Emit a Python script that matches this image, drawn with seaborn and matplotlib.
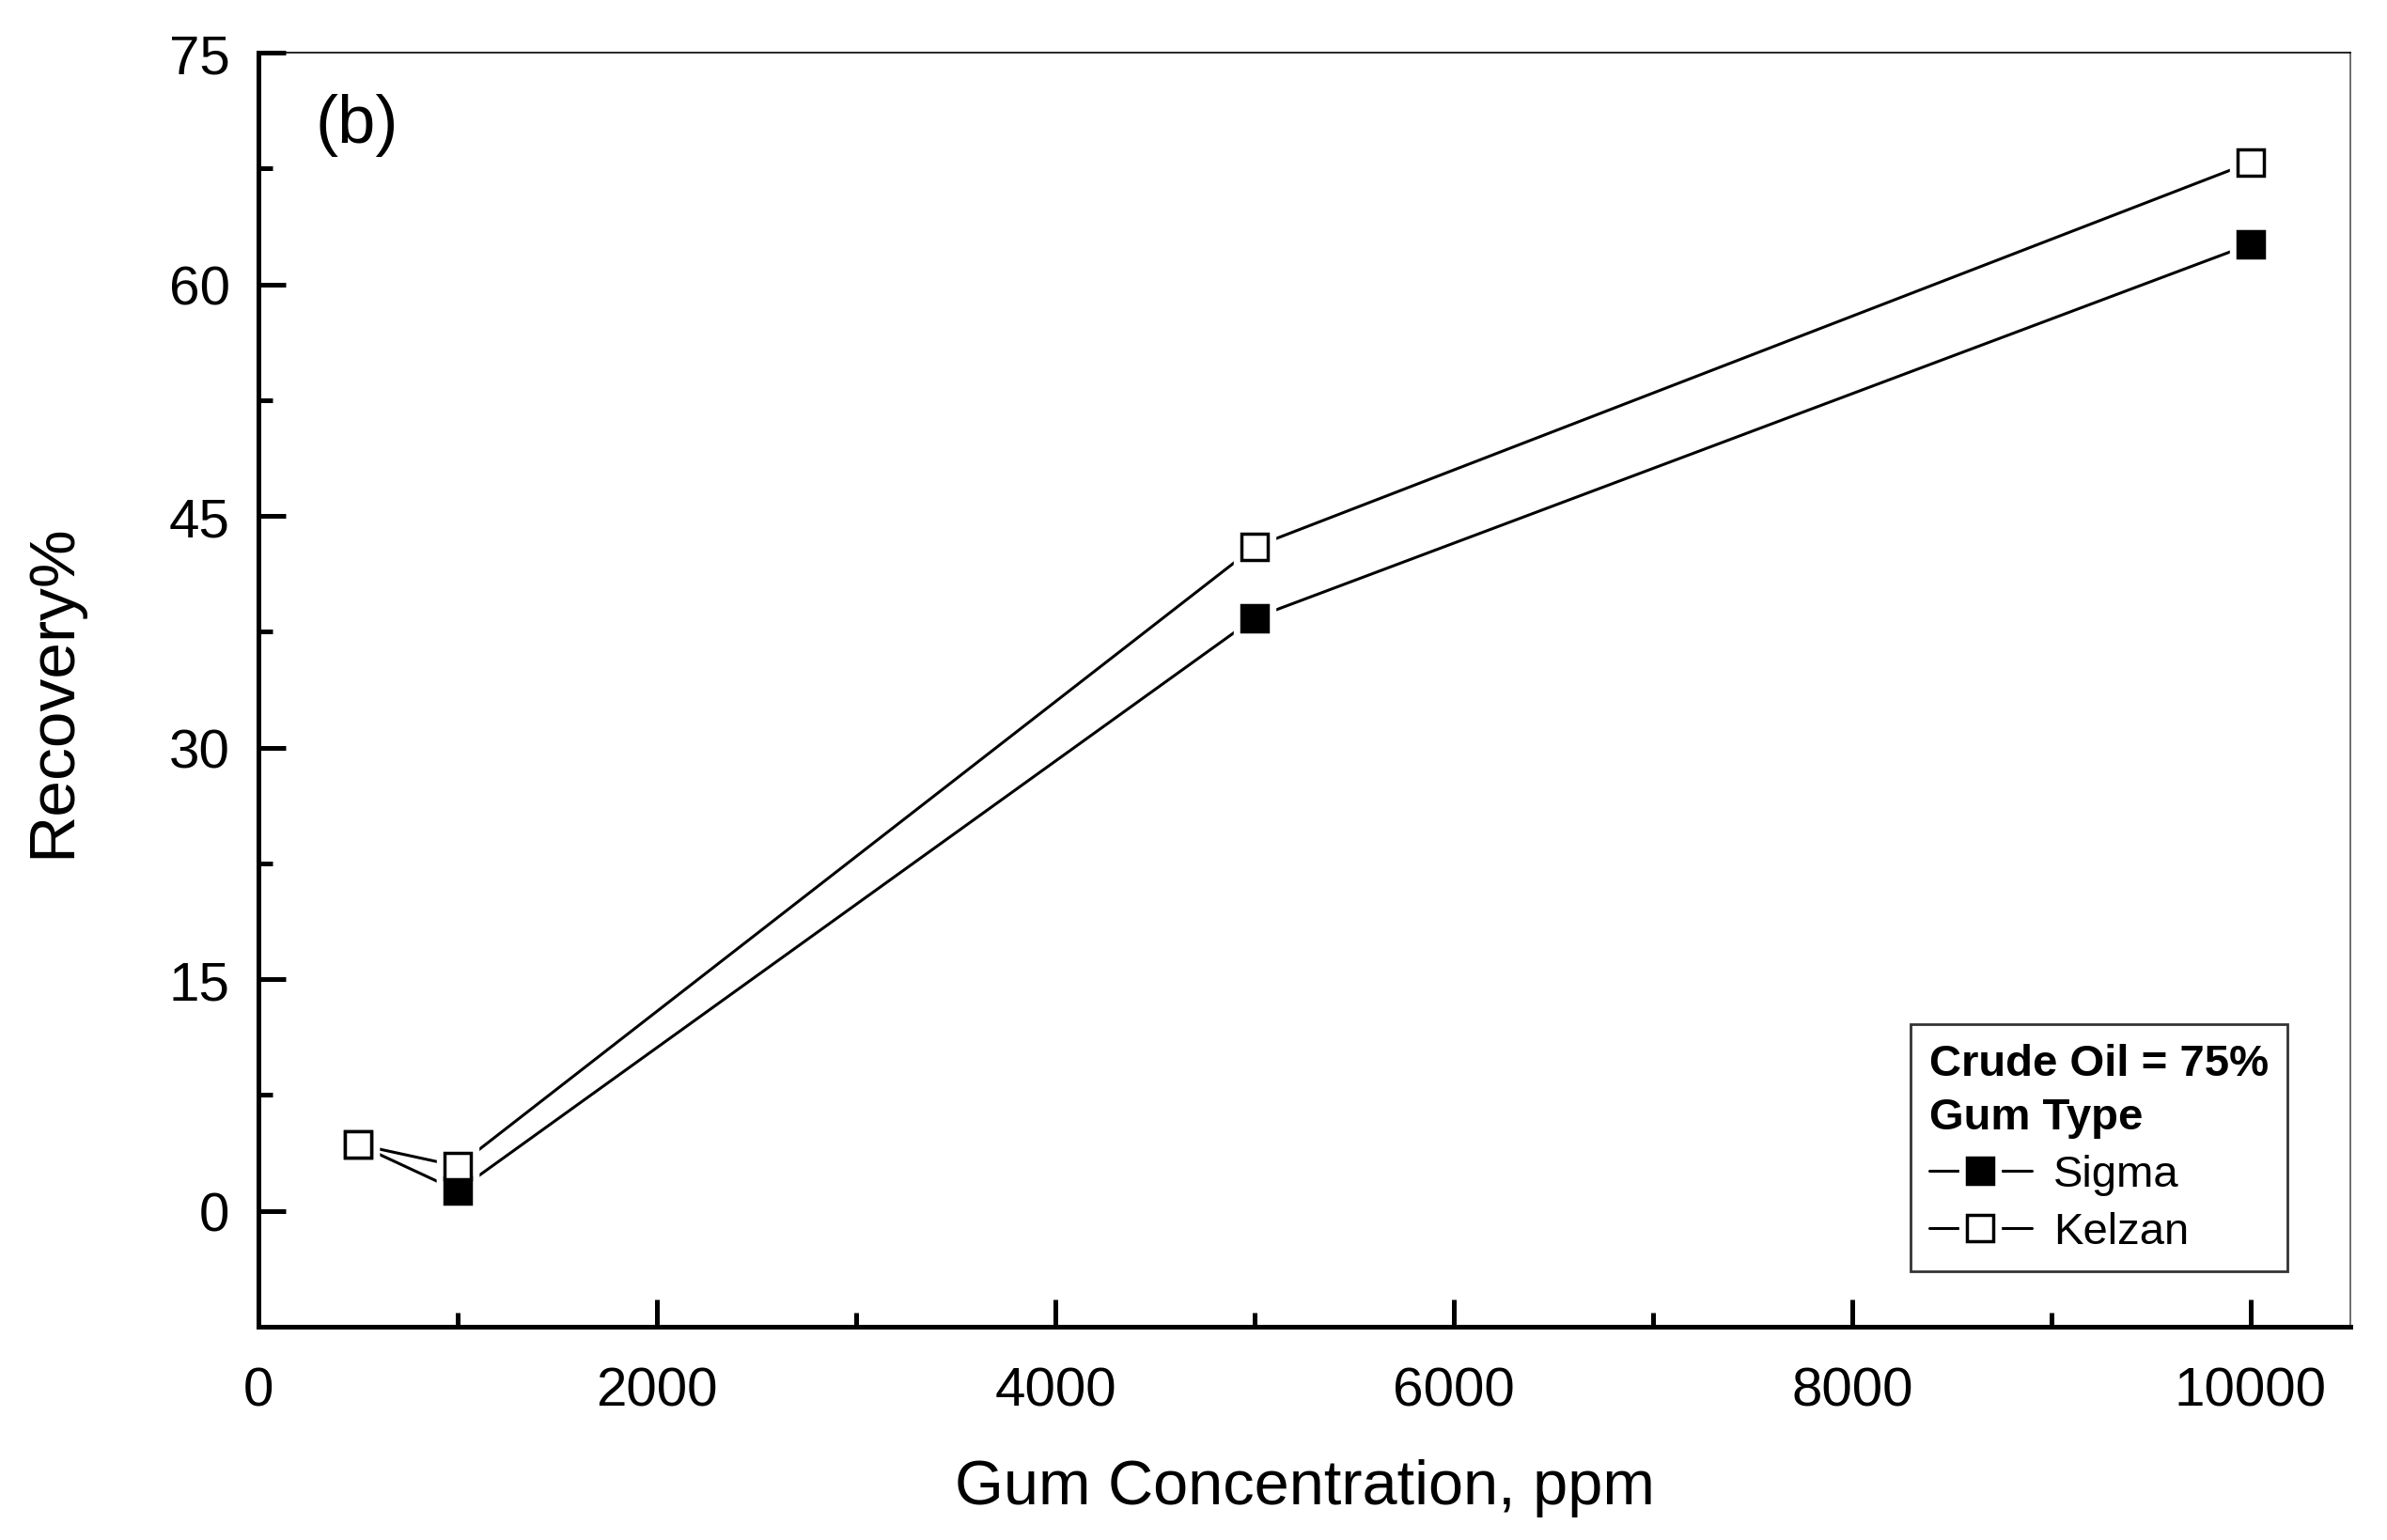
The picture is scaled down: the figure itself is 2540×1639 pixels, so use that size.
import numpy as np
import pandas as pd
import matplotlib.pyplot as plt
from matplotlib.lines import Line2D
from matplotlib.ticker import MultipleLocator
import seaborn as sns

# data
concentration = [500, 1000, 5000, 10000]
sigma = [4.3, 1.3, 38.4, 62.6]
kelzan = [4.3, 2.9, 43.0, 67.9]
series_names = ["Sigma", "Kelzan"]
face_colors = ["black", "white"]

df = pd.DataFrame({
    "conc": concentration * 2,
    "recovery": sigma + kelzan,
    "gum": ["Sigma"] * len(sigma) + ["Kelzan"] * len(kelzan),
})

sns.set_theme(style="white")
plt.rcParams["font.family"] = ["Liberation Sans", "DejaVu Sans"]
plt.rcParams["text.color"] = "black"
plt.rcParams["axes.labelcolor"] = "black"
plt.rcParams["xtick.color"] = "black"
plt.rcParams["ytick.color"] = "black"

fig = plt.figure(figsize=(25.4, 16.4), dpi=100)
ax = fig.add_axes([0.1083, 0.1384, 0.8763, 0.8268])

# lines first, then white "gap" squares, then the real markers
sns.lineplot(data=df, x="conc", y="recovery", units="gum", estimator=None,
             color="black", linewidth=2.2, ax=ax, legend=False, zorder=2)
for name in series_names:
    sub = df[df["gum"] == name]
    ax.plot(sub["conc"], sub["recovery"], ls="none", marker="s", ms=31,
            mfc="white", mec="white", zorder=3)
for name, fc in zip(series_names, face_colors):
    sub = df[df["gum"] == name]
    ax.plot(sub["conc"], sub["recovery"], ls="none", marker="s", ms=20.5,
            mfc=fc, mec="black", mew=2.5, zorder=4)

ax.set_xlim(0, 10500)
ax.set_ylim(-7.5, 75)
ax.xaxis.set_major_locator(MultipleLocator(2000))
ax.xaxis.set_minor_locator(MultipleLocator(1000))
ax.yaxis.set_major_locator(MultipleLocator(15))
ax.yaxis.set_minor_locator(MultipleLocator(7.5))

ax.tick_params(which="both", direction="in", bottom=True, left=True,
               top=False, right=False, color="black", width=3.6)
ax.tick_params(which="major", length=21, labelsize=42, labelcolor="black")
ax.tick_params(which="minor", length=11)
ax.tick_params(axis="x", which="major", pad=30)
ax.tick_params(axis="y", which="major", pad=22)

for side in ["left", "bottom"]:
    ax.spines[side].set_linewidth(3.6)
    ax.spines[side].set_color("black")
ax.spines["top"].set_linewidth(1.2)
ax.spines["top"].set_color("black")
ax.spines["right"].set_linewidth(1.2)
ax.spines["right"].set_color("#555555")

ax.set_xlabel("Gum Concentration, ppm", fontsize=48, labelpad=32)
ax.set_ylabel("Recovery%", fontsize=50, labelpad=66)

ax.text(0.027, 0.968, "(b)", transform=ax.transAxes, fontsize=52,
        ha="left", va="top")

handles = []
for fc in face_colors:
    h_line = Line2D([], [], color="black", linewidth=2.2)
    h_gap = Line2D([], [], ls="none", marker="s", ms=31, mfc="white", mec="white")
    h_mark = Line2D([], [], ls="none", marker="s", ms=20.5, mfc=fc,
                    mec="black", mew=2.5)
    handles.append((h_line, h_gap, h_mark))

leg = ax.legend(handles, series_names, title="Crude Oil = 75%\nGum Type",
                title_fontproperties={"weight": "bold", "size": 34},
                fontsize=34, loc="lower right",
                bbox_to_anchor=(0.970, 0.0435), alignment="left",
                frameon=True, fancybox=False, edgecolor="black",
                handlelength=2.3, handletextpad=0.5, labelspacing=0.36,
                borderpad=0.42, borderaxespad=0)
leg.get_frame().set_linewidth(2.0)
leg.get_title().set_linespacing(1.4)

fig.savefig("out.png", dpi=100)
